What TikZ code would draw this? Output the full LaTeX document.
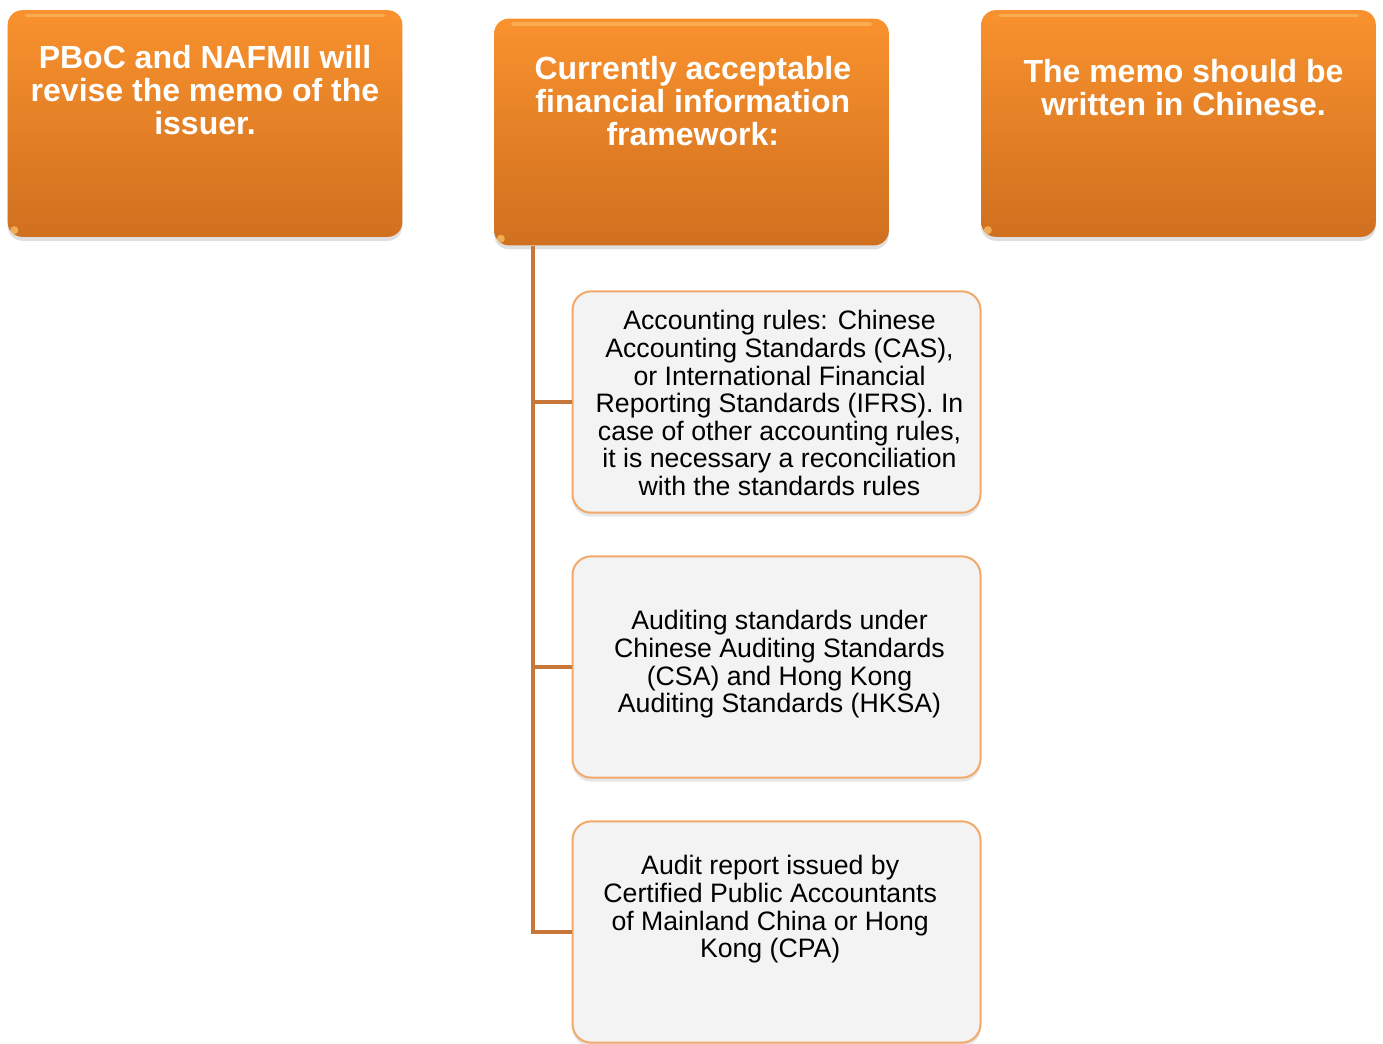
\documentclass[tikz,border=0pt]{standalone}
\usepackage{fontspec}
\setmainfont{Liberation Sans}
\usetikzlibrary{positioning,shadows}

\definecolor{boxtop}{HTML}{F9922E}
\definecolor{boxbot}{HTML}{D0701F}
\definecolor{boxhi}{HTML}{FDC770}
\definecolor{linkc}{HTML}{C8773A}
\definecolor{edgec}{HTML}{F2A96A}
\definecolor{leaffill}{HTML}{F3F3F3}

\begin{document}
\begin{tikzpicture}[
  x=0.75pt, y=-0.75pt,
  head/.style={rounded corners=11pt, top color=boxtop, bottom color=boxbot,
    minimum width=296pt, minimum height=170pt, inner sep=0pt,
    drop shadow={shadow xshift=0pt, shadow yshift=-3pt, opacity=0.25},
    path picture={\draw[boxhi, line width=2.5pt, opacity=0.5, line cap=round]
      ([xshift=14pt, yshift=-4pt]path picture bounding box.north west) --
      ([xshift=-14pt, yshift=-4pt]path picture bounding box.north east);
      \fill[boxhi, opacity=0.7]
      ([xshift=5pt, yshift=5pt]path picture bounding box.south west) circle (3pt);}},
  headtxt/.style={font=\fontsize{24}{24.75}\selectfont\bfseries, text=white,
    align=center, inner sep=0pt},
  leaf/.style={draw=edgec, line width=1.5pt, rounded corners=14pt, fill=leaffill,
    minimum width=306pt, minimum height=166pt, inner sep=0pt,
    drop shadow={shadow xshift=0pt, shadow yshift=-3pt, opacity=0.2}},
  leaftxt/.style={font=\fontsize{20}{20.7}\selectfont, align=center, inner sep=0pt},
  link/.style={draw=linkc, line width=3pt}
]
  \useasboundingbox (0,0) rectangle (1383,1043);

  % top row
  \node[head] (memo) at (205,123.5) {};
  \node[head] (frame) at (691.5,132) {};
  \node[head] (lang) at (1178.5,123.5) {};
  \node[headtxt, below=26.25pt of memo.north] (memotxt)
    {PBoC and NAFMII will\\revise the memo of the\\issuer.};
  \node[headtxt, below=28pt of frame.north, xshift=1pt] (frametxt)
    {Currently acceptable\\financial information\\framework:};
  \node[headtxt, below=36.75pt of lang.north, xshift=3.75pt] (langtxt)
    {The memo should be\\written in Chinese.};

  % branches under the framework box
  \coordinate (spine) at ([xshift=29.25pt]frame.south west);
  \node[leaf] (acct) at (776.5,402) {};
  \node[leaf] (audit) at (776.5,667) {};
  \node[leaf] (report) at (776.5,932) {};
  \draw[link] (spine) |- (acct.west);
  \draw[link] (spine) |- (audit.west);
  \draw[link] (spine) |- (report.west);

  \node[leaftxt, below=15pt of acct.north, xshift=2.25pt] (accttxt)
    {Accounting rules: Chinese\\Accounting Standards (CAS),\\or International Financial\\
     Reporting Standards (IFRS). In\\case of other accounting rules,\\
     it is necessary a reconciliation\\with the standards rules};
  \node[leaftxt, below=41.25pt of audit.north, xshift=2.25pt] (audittxt)
    {Auditing standards under\\Chinese Auditing Standards\\(CSA) and Hong Kong\\
     Auditing Standards (HKSA)};
  \node[leaftxt, below=26.25pt of report.north, xshift=-4.75pt] (reporttxt)
    {Audit report issued by\\Certified Public Accountants\\of Mainland China or Hong\\
     Kong (CPA)};
\end{tikzpicture}
\end{document}
